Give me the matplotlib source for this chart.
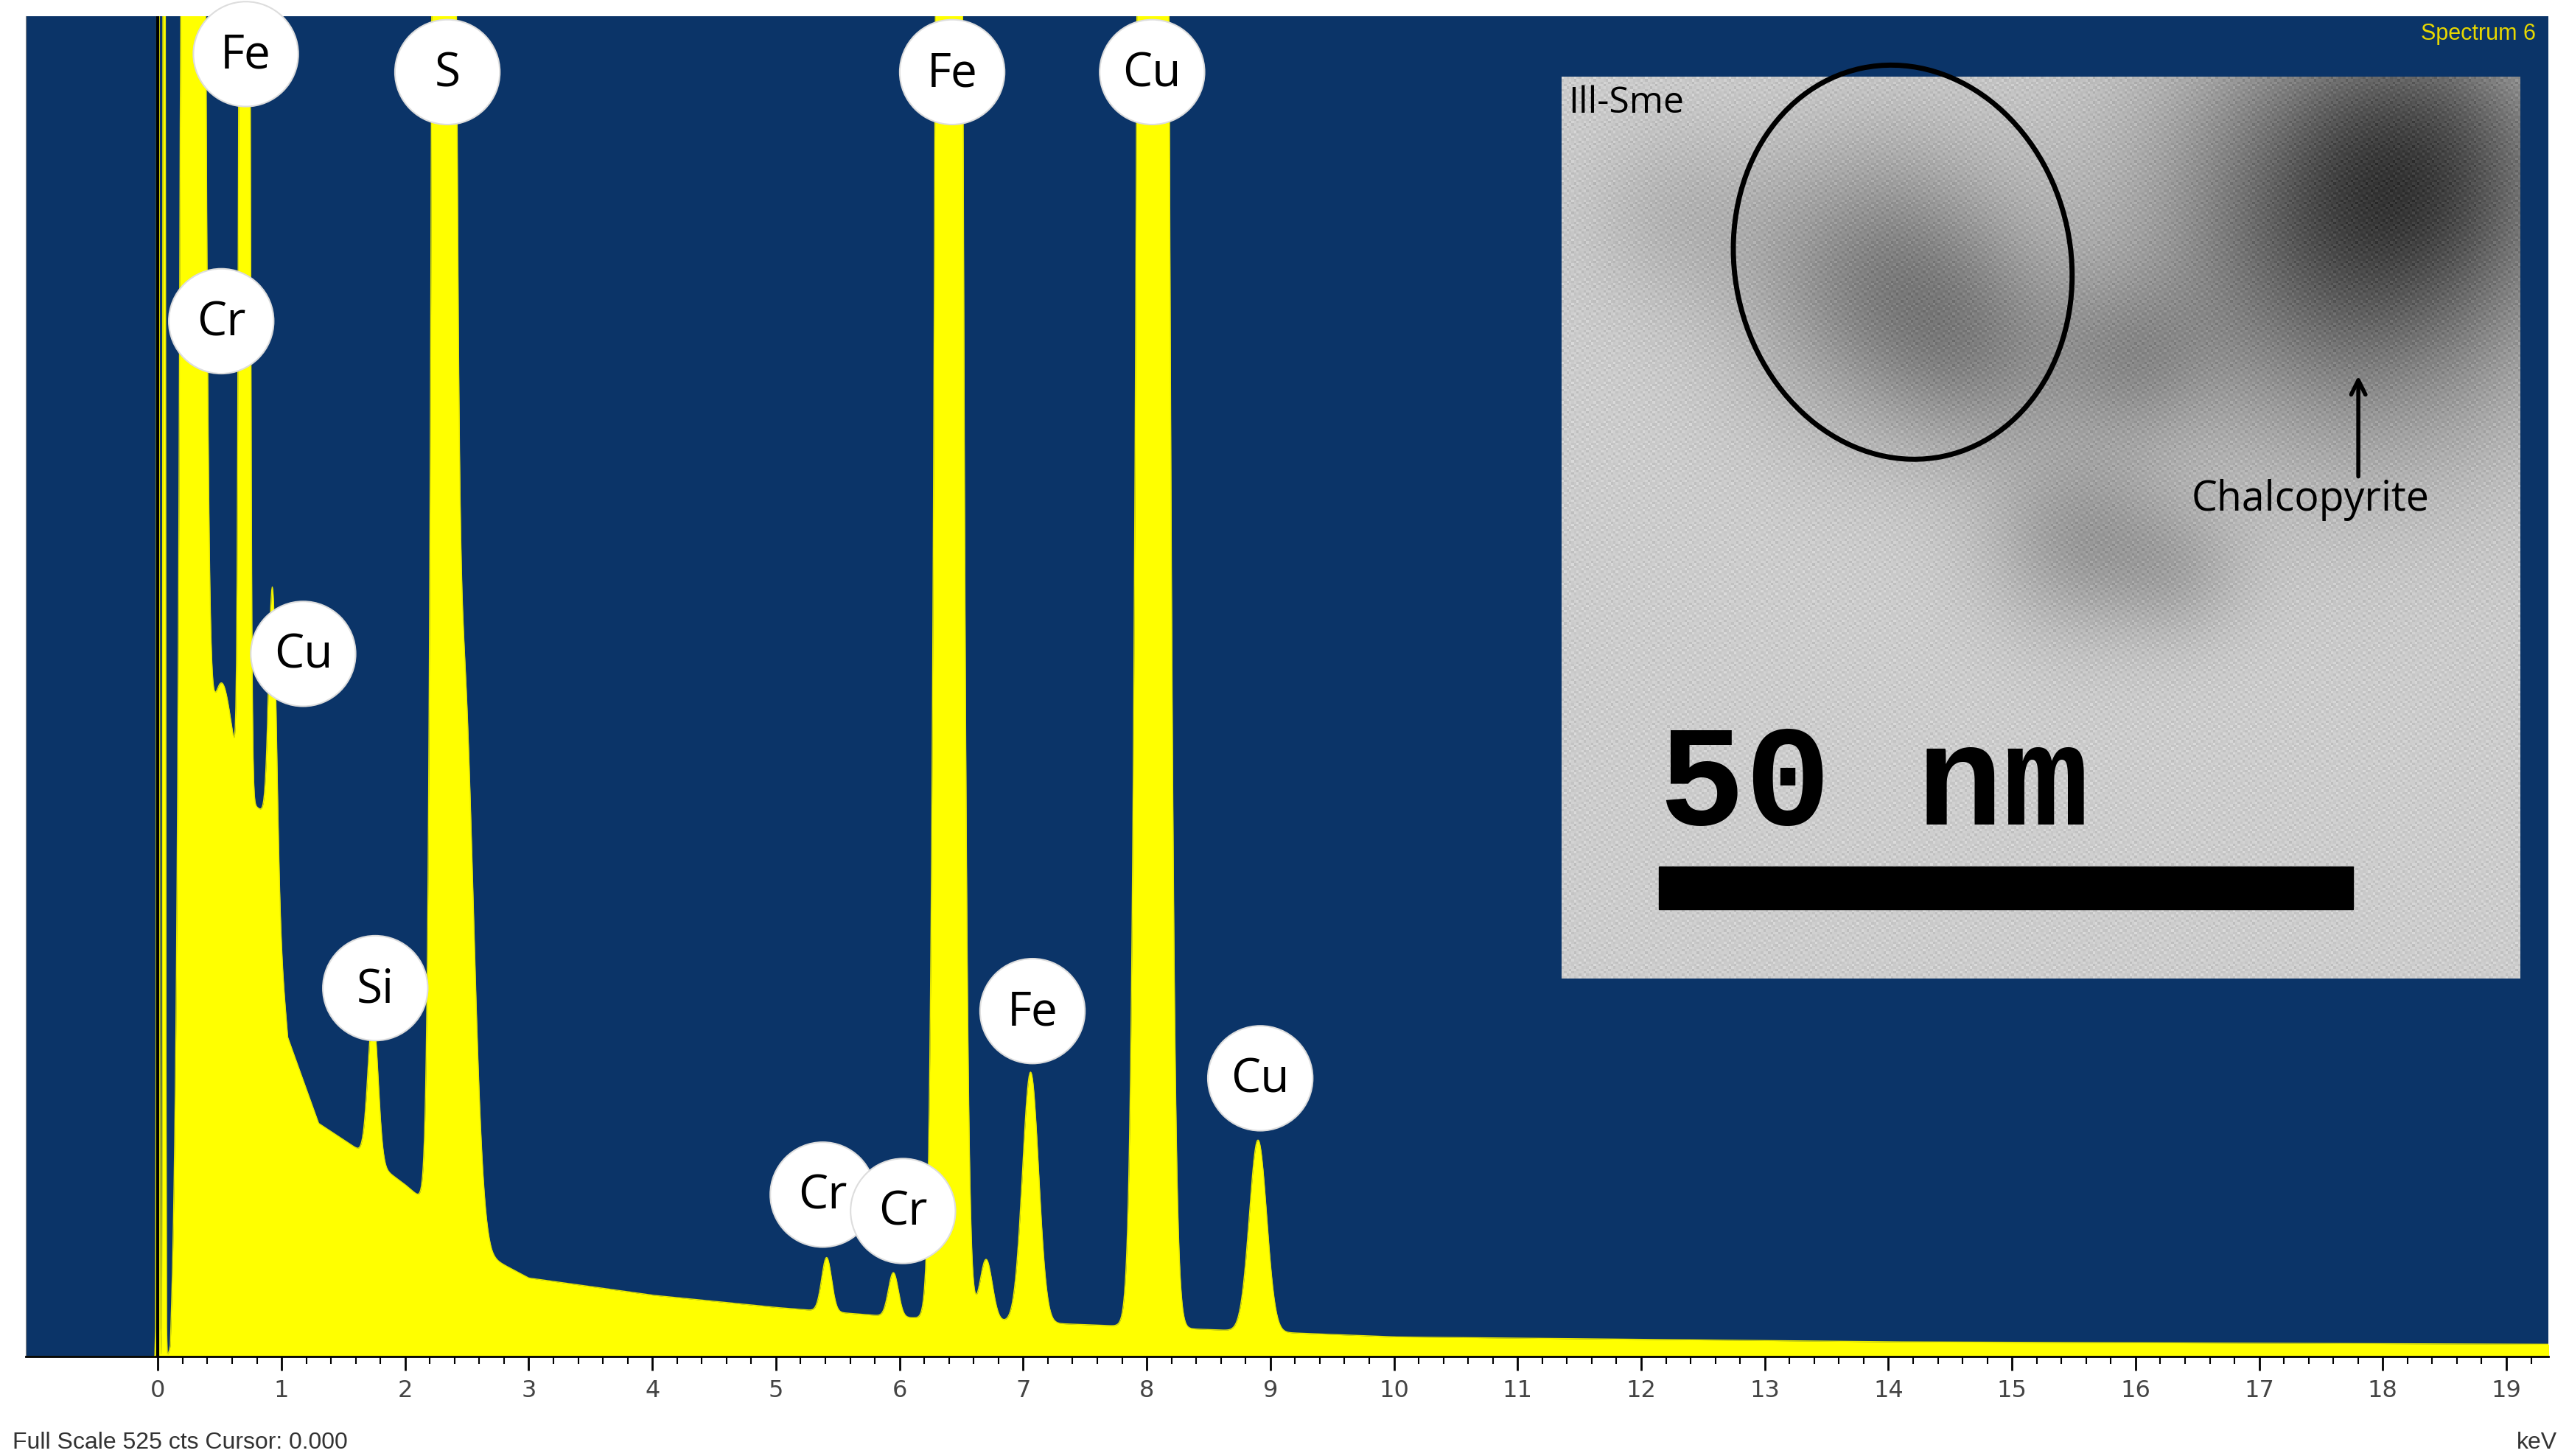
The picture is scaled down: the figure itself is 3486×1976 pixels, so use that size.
import numpy as np
import matplotlib
matplotlib.use("Agg")
import matplotlib.pyplot as plt
from matplotlib.patches import Circle, Ellipse, Rectangle

# peaks: energy (keV), height (cts), sigma (keV)
peak_kev = [0.00, 0.05, 0.28, 0.52, 0.70, 0.93, 1.74, 2.31, 2.47, 5.41, 5.95, 6.40, 6.70, 7.06, 8.05, 8.90]
peak_cts = [3000, 3000, 3000, 40, 3000, 110, 60, 3000, 230, 22, 18, 3000, 25, 102, 3000, 78]
peak_sig = [0.006, 0.006, 0.05, 0.08, 0.022, 0.03, 0.04, 0.05, 0.08, 0.04, 0.04, 0.06, 0.05, 0.065, 0.07, 0.07]

# background anchors
bg_kev = [0.1, 0.3, 0.5, 0.9, 1.05, 1.3, 1.6, 2.0, 2.7, 3.0, 4.0, 5.0, 6.0, 8.0, 10.0, 14.0, 19.4]
bg_cts = [0, 240, 235, 220, 130, 95, 85, 70, 40, 32, 25, 20, 16, 12, 8, 6, 5]

# element labels (x, y in display px of the 1568-wide reference)
lab_txt = ["Fe", "S", "Fe", "Cu", "Cr", "Cu", "Si", "Fe", "Cu", "Cr", "Cr"]
lab_x = [150, 273, 581, 703, 135, 185, 229, 630, 769, 502, 551]
lab_y = [33, 44, 44, 44, 196, 399, 603, 617, 658, 729, 739]

FULL_SCALE = 525
NAVY = "#0b3468"

E = np.arange(-1.1, 19.4, 0.005)
spec = np.interp(E, bg_kev, bg_cts, left=0)
for k, h, s in zip(peak_kev, peak_cts, peak_sig):
    spec = spec + h * np.exp(-0.5 * ((E - k) / s) ** 2)
spec = np.minimum(spec, FULL_SCALE * 1.05)

fig = plt.figure(figsize=(34.87, 19.76), dpi=100)
ax = fig.add_axes([0.010, 0.0683, 0.9817, 0.9206])
ax.set_facecolor(NAVY)
ax.fill_between(E, 0, spec, color="#ffff00", linewidth=0)
ax.plot(E, spec, color="#e8e800", linewidth=1)
ax.axvline(0.0, color="black", linewidth=3)
ax.set_xlim(-1.07, 19.34)
ax.set_ylim(0, FULL_SCALE * 1.04)
ax.set_yticks([])
ax.set_xticks(range(0, 20))
ax.set_xticks(np.arange(0, 19.4, 0.2), minor=True)
ax.tick_params(axis="x", which="major", length=14, width=2, labelsize=23,
               labelcolor="#444444", pad=8)
ax.tick_params(axis="x", which="minor", length=7, width=1.5)
for s in ["top", "right"]:
    ax.spines[s].set_visible(False)
ax.spines["left"].set_color("#888888")
ax.spines["bottom"].set_linewidth(2)
ax.text(0.995, 0.995, "Spectrum 6", transform=ax.transAxes, ha="right",
        va="top", color="#e8d800", fontsize=22, family="Liberation Sans")
fig.text(0.005, 0.005, "Full Scale 525 cts Cursor: 0.000", fontsize=23,
         color="#333333", family="Liberation Sans")
fig.text(0.995, 0.005, "keV", fontsize=23, color="#333333", ha="right",
         family="Liberation Sans")

# overlay in reference display pixels
ov = fig.add_axes([0, 0, 1, 1])
ov.set_xlim(0, 1568)
ov.set_ylim(888.5, 0)
ov.axis("off")

for t, x, y in zip(lab_txt, lab_x, lab_y):
    ov.add_patch(Circle((x, y), 32, facecolor="white", edgecolor="#dddddd", lw=1.5))
    ov.text(x, y + 1, t, ha="center", va="center", fontsize=46,
            family="Open Sans", color="black")

# TEM inset
iy, ix = np.mgrid[47:597:1.5, 953:1538:1.5]
img = np.full(ix.shape, 0.80)
blobs = [(1150, 170, 60, 0.28), (1210, 220, 45, 0.15), (1440, 140, 90, 0.45),
         (1480, 90, 60, 0.2), (1270, 330, 40, 0.18), (1330, 350, 30, 0.1),
         (1020, 130, 40, 0.08), (1300, 220, 35, 0.15)]
for bx, by, r, d in blobs:
    img -= d * np.exp(-((ix - bx) ** 2 + (iy - by) ** 2) / (2 * r ** 2))
img += 0.06 * np.sin(ix * 1.3 + iy * 0.4) * np.sin(iy * 1.7 - ix * 0.3)
ov.imshow(img, cmap="gray", vmin=0, vmax=1, extent=(953, 1538, 597, 47),
          aspect="auto", zorder=2)
ov.add_patch(Ellipse((1161, 160), 205, 242, angle=-12, fill=False,
                     edgecolor="black", lw=5, zorder=3))
ov.add_patch(Rectangle((1012, 529), 424, 26, color="black", zorder=3))
ov.text(1012, 503, "50 nm", fontsize=140, family="Liberation Mono",
        weight="bold", color="black", zorder=3, va="baseline")
ov.text(957, 63, "Ill-Sme", fontsize=36, family="Open Sans", va="center", zorder=3)
ov.text(1337, 305, "Chalcopyrite", fontsize=40, family="Open Sans", va="center", zorder=3)
ov.annotate("", xy=(1439, 228), xytext=(1439, 292), zorder=3,
            arrowprops=dict(arrowstyle="->", lw=4, color="black", mutation_scale=35))

fig.savefig("out.png", facecolor="white")
